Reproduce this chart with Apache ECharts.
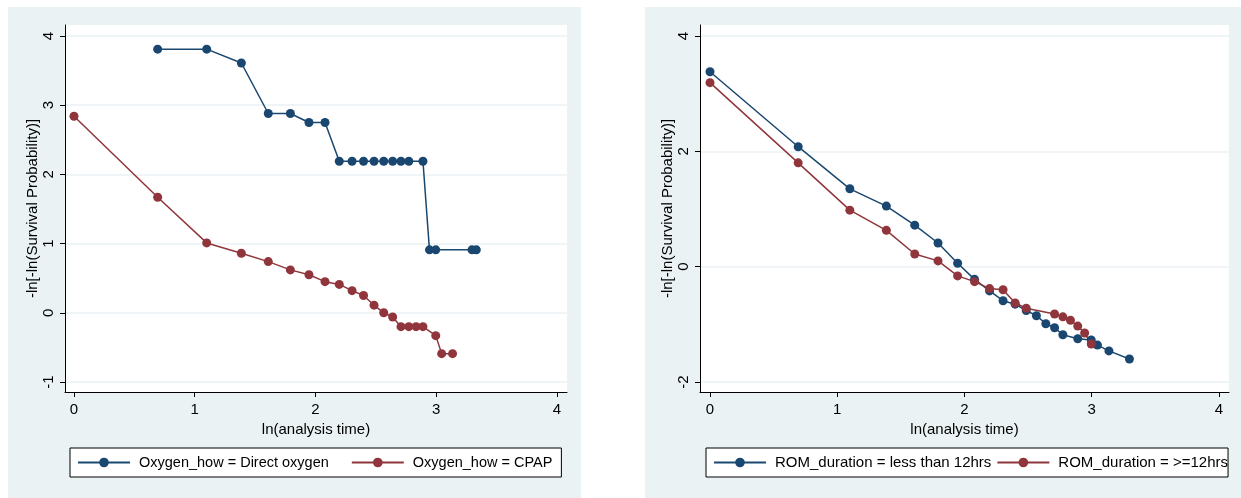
<!DOCTYPE html>
<html>
<head>
<meta charset="utf-8">
<script src="https://cdn.jsdelivr.net/npm/echarts@6/dist/echarts.min.js"></script>
<style>
html,body{margin:0;padding:0;background:#fff;}
#c{width:1241px;height:498px;}
</style>
</head>
<body>
<div id="c"></div>
<script>
// ---- data ----
const leftXDirect = [0.693,1.099,1.386,1.609,1.792,1.946,2.079,2.197,2.303,2.398,2.485,2.565,2.639,2.708,2.773,2.890,2.944,2.996,3.296,3.332];
const leftYDirect = [3.81,3.81,3.61,2.88,2.88,2.75,2.75,2.19,2.19,2.19,2.19,2.19,2.19,2.19,2.19,2.19,0.91,0.91,0.91,0.91];
const leftXCpap = [0,0.693,1.099,1.386,1.609,1.792,1.946,2.079,2.197,2.303,2.398,2.485,2.565,2.639,2.708,2.773,2.833,2.890,2.996,3.045,3.135];
const leftYCpap = [2.84,1.67,1.01,0.86,0.74,0.62,0.55,0.45,0.41,0.32,0.25,0.11,0.00,-0.06,-0.20,-0.20,-0.20,-0.20,-0.33,-0.59,-0.59];
const rightXLess = [0,0.693,1.099,1.386,1.609,1.792,1.946,2.079,2.197,2.303,2.398,2.485,2.565,2.639,2.708,2.773,2.890,2.996,3.045,3.135,3.296];
const rightYLess = [3.38,2.08,1.35,1.05,0.72,0.41,0.06,-0.22,-0.42,-0.59,-0.65,-0.76,-0.85,-0.99,-1.06,-1.18,-1.25,-1.27,-1.36,-1.46,-1.60];
const rightXGe = [0,0.693,1.099,1.386,1.609,1.792,1.946,2.079,2.197,2.303,2.398,2.485,2.708,2.773,2.833,2.890,2.944,2.996];
const rightYGe = [3.19,1.80,0.98,0.63,0.22,0.10,-0.16,-0.26,-0.38,-0.40,-0.63,-0.72,-0.82,-0.87,-0.93,-1.03,-1.15,-1.34];
const xTicks = [0,1,2,3,4];
const leftYTicks = [-1,0,1,2,3,4];
const rightYTicks = [-2,0,2,4];
const seriesNames = ['Oxygen_how = Direct oxygen','Oxygen_how = CPAP','ROM_duration = less than 12hrs','ROM_duration = >=12hrs'];
const xTitle = 'ln(analysis time)';
const yTitle = '-ln[-ln(Survival Probability)]';

const NAVY = '#1a476f', MAROON = '#90353b', PANEL = '#eaf2f3';
const FONT = "'Liberation Sans', Arial, sans-serif";
const zip = (xs, ys) => xs.map((x, i) => [x, ys[i]]);

function xAxisOf(idx, min, max) {
  return {
    type: 'value', gridIndex: idx, min: min, max: max,
    name: xTitle, nameLocation: 'middle', nameGap: 30,
    nameTextStyle: {fontFamily: FONT, fontSize: 15, color: '#000'},
    axisLine: {show: true, onZero: false, lineStyle: {color: '#000', width: 1}},
    axisTick: {show: true, length: 5, customValues: xTicks, lineStyle: {color: '#000'}},
    axisLabel: {customValues: xTicks, fontFamily: FONT, fontSize: 15, color: '#000', margin: 10},
    splitLine: {show: false}
  };
}
function yAxisOf(idx, min, max, ticks, gap) {
  return {
    type: 'value', gridIndex: idx, min: min, max: max,
    name: yTitle, nameLocation: 'middle', nameGap: gap, nameRotate: 90,
    nameTextStyle: {fontFamily: FONT, fontSize: 15, color: '#000'},
    axisLine: {show: true, onZero: false, lineStyle: {color: '#000', width: 1}},
    axisTick: {show: true, length: 5, customValues: ticks, lineStyle: {color: '#000'}},
    axisLabel: {customValues: ticks, rotate: 90, fontFamily: FONT, fontSize: 15, color: '#000', margin: 9},
    splitLine: {show: true, lineStyle: {color: PANEL, width: 1.5}}
  };
}
function lineSeries(name, data, color, idx) {
  return {
    type: 'line', name: name, data: data, xAxisIndex: idx, yAxisIndex: idx,
    symbol: 'circle', symbolSize: 9, clip: false, animation: false,
    lineStyle: {color: color, width: 1.5}, itemStyle: {color: color}
  };
}
function legendOf(names, left, padding, gap, fs) {
  return {
    data: names, left: left, top: 448, orient: 'horizontal',
    backgroundColor: '#fff', borderColor: '#000', borderWidth: 1, borderRadius: 0,
    padding: padding, itemGap: gap, itemWidth: 52, itemHeight: 12,
    textStyle: {fontFamily: FONT, fontSize: fs, color: '#000', padding: [0, 0, 0, 4]}
  };
}

const chart = echarts.init(document.getElementById('c'), null, {renderer: 'canvas'});
chart.setOption({
  animation: false,
  backgroundColor: '#fff',
  graphic: [
    {type: 'rect', shape: {x: 8, y: 7, width: 573, height: 491}, style: {fill: PANEL}, z: -10, silent: true},
    {type: 'rect', shape: {x: 645, y: 7, width: 596, height: 491}, style: {fill: PANEL}, z: -10, silent: true}
  ],
  grid: [
    {left: 65, top: 25, width: 502, height: 367, show: true, backgroundColor: '#fff', borderWidth: 0, containLabel: false},
    {left: 700, top: 25, width: 529, height: 367, show: true, backgroundColor: '#fff', borderWidth: 0, containLabel: false}
  ],
  xAxis: [xAxisOf(0, -0.0745, 4.083), xAxisOf(1, -0.0786, 4.0786)],
  yAxis: [yAxisOf(0, -1.1445, 4.159, leftYTicks, 25), yAxisOf(1, -2.173, 4.19, rightYTicks, 17)],
  legend: [
    legendOf([seriesNames[0], seriesNames[1]], 70, [7, 9, 7, 7], 22, 14.5),
    legendOf([seriesNames[2], seriesNames[3]], 706, [7, 0, 7, 7], 5, 15)
  ],
  series: [
    lineSeries(seriesNames[0], zip(leftXDirect, leftYDirect), NAVY, 0),
    lineSeries(seriesNames[1], zip(leftXCpap, leftYCpap), MAROON, 0),
    lineSeries(seriesNames[2], zip(rightXLess, rightYLess), NAVY, 1),
    lineSeries(seriesNames[3], zip(rightXGe, rightYGe), MAROON, 1)
  ]
});
</script>
</body>
</html>
